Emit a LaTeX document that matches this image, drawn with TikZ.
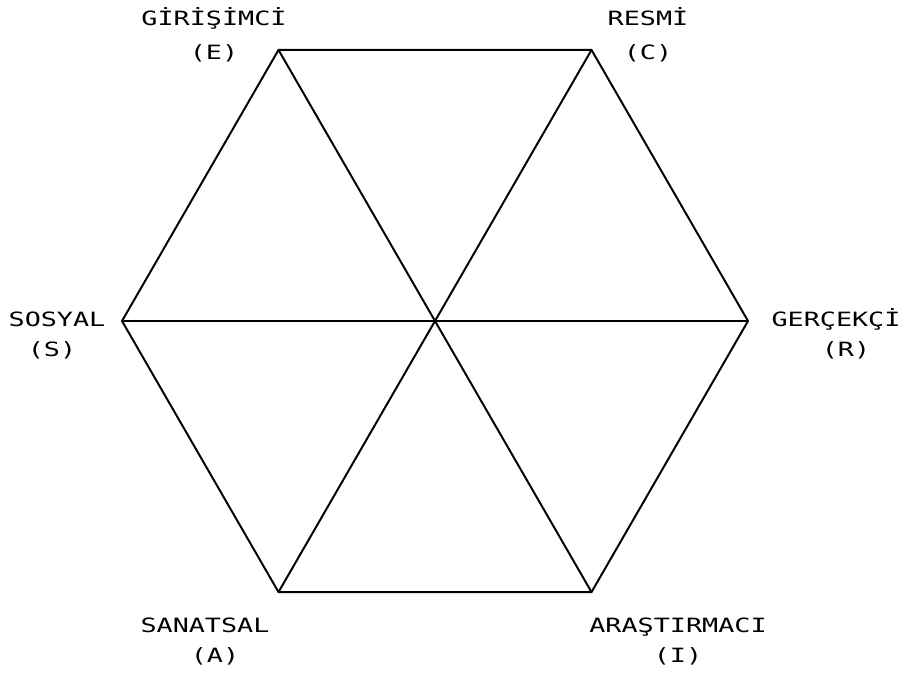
\documentclass[tikz,border=0pt]{standalone}
\usepackage{fontspec}
\usetikzlibrary{calc}
\newfontfamily\hexfont[FakeStretch=1.36]{DejaVu Sans Mono}
\tikzset{
  hexline/.style={line width=1.4pt, draw=black, line join=miter},
  typetext/.style={anchor=base, inner sep=0pt, font=\hexfont\fontsize{14}{16}\selectfont}
}

\begin{document}
\begin{tikzpicture}
                \useasboundingbox (0,0) rectangle (22.875,16.8);
                
                % Corners of the hexagon
                \coordinate (mid) at (10.875,8.775);
                \coordinate (gercekci) at ($(mid)+(0:7.825)$);
                \coordinate (resmi) at ($(mid)+(60:7.825)$);
                \coordinate (girisimci) at ($(mid)+(120:7.825)$);
                \coordinate (sosyal) at ($(mid)+(180:7.825)$);
                \coordinate (sanatsal) at ($(mid)+(240:7.825)$);
                \coordinate (arastirmaci) at ($(mid)+(300:7.825)$);
                
                % Outline
                \draw[hexline] (gercekci) -- (resmi) -- (girisimci) -- (sosyal) -- (sanatsal) -- (arastirmaci) -- cycle;
                
                % Diagonals through the centre
                \draw[hexline] (girisimci) -- (arastirmaci);
                \draw[hexline] (resmi) -- (sanatsal);
                \draw[hexline] (sosyal) -- (gercekci);
                
                % Type names
                \node[typetext] (nameE) at (5.35,16.15) {GİRİŞİMCİ};
                \node[typetext] (codeE) at (5.35,15.3) {(E)};
                \node[typetext] (nameC) at (16.2,16.15) {RESMİ};
                \node[typetext] (codeC) at (16.2,15.3) {(C)};
                \node[typetext] (nameS) at (1.425,8.625) {SOSYAL};
                \node[typetext] (codeS) at (1.3,7.875) {(S)};
                \node[typetext] (nameR) at (20.9,8.625) {GERÇEKÇİ};
                \node[typetext] (codeR) at (21.15,7.875) {(R)};
                \node[typetext] (nameA) at (5.125,1.0) {SANATSAL};
                \node[typetext] (codeA) at (5.375,0.25) {(A)};
                \node[typetext] (nameI) at (16.95,1.0) {ARAŞTIRMACI};
                \node[typetext] (codeI) at (16.95,0.25) {(I)};
            \end{tikzpicture}
\end{document}
